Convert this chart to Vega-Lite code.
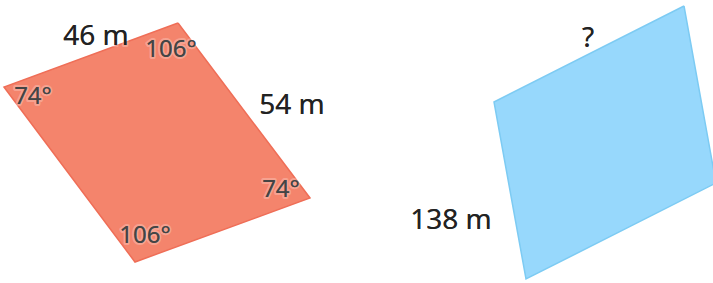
{
  "$schema": "https://vega.github.io/schema/vega-lite/v6.json",
  "width": 713,
  "height": 283,
  "padding": 0,
  "autosize": {"type": "none"},
  "background": "white",
  "config": {"view": {"stroke": null}},
  "datasets": {
    "shapes": [
      {"shape": "A", "i": 0, "x": 178, "y": 23},
      {"shape": "A", "i": 1, "x": 310, "y": 198},
      {"shape": "A", "i": 2, "x": 135, "y": 262},
      {"shape": "A", "i": 3, "x": 4, "y": 87},
      {"shape": "A", "i": 4, "x": 178, "y": 23},
      {"shape": "B", "i": 0, "x": 684, "y": 6},
      {"shape": "B", "i": 1, "x": 716, "y": 183},
      {"shape": "B", "i": 2, "x": 526, "y": 279},
      {"shape": "B", "i": 3, "x": 494, "y": 102},
      {"shape": "B", "i": 4, "x": 684, "y": 6}
    ],
    "labels": [
      {"text": "46 m", "x": 96, "y": 37, "kind": "side"},
      {"text": "54 m", "x": 292, "y": 106, "kind": "side"},
      {"text": "?", "x": 588, "y": 39, "kind": "side"},
      {"text": "138 m", "x": 451, "y": 221, "kind": "side"},
      {"text": "106°", "x": 171, "y": 50, "kind": "angle"},
      {"text": "74°", "x": 33, "y": 97, "kind": "angle"},
      {"text": "74°", "x": 281, "y": 190, "kind": "angle"},
      {"text": "106°", "x": 145, "y": 236, "kind": "angle"}
    ]
  },
  "encoding": {
    "x": {"field": "x", "type": "quantitative", "scale": {"domain": [0, 713], "range": [0, 713], "nice": false, "zero": false}, "axis": null},
    "y": {"field": "y", "type": "quantitative", "scale": {"domain": [0, 283], "range": [0, 283], "nice": false, "zero": false}, "axis": null}
  },
  "layer": [
    {
      "data": {"name": "shapes"},
      "mark": {"type": "line", "strokeWidth": 1.5, "clip": false},
      "encoding": {
        "order": {"field": "i", "type": "quantitative"},
        "detail": {"field": "shape"},
        "stroke": {"field": "shape", "type": "nominal", "scale": {"domain": ["A", "B"], "range": ["#EF6E57", "#7DCBF3"]}, "legend": null},
        "fill": {"field": "shape", "type": "nominal", "scale": {"domain": ["A", "B"], "range": ["#F4846C", "#97D8FC"]}, "legend": null}
      }
    },
    {
      "data": {"name": "labels"},
      "mark": {"type": "text", "font": "Noto Sans", "stroke": "white", "strokeWidth": 4, "strokeOpacity": 0.25, "strokeJoin": "round", "baseline": "middle", "align": "center"},
      "encoding": {
        "text": {"field": "text"},
        "size": {"field": "kind", "type": "nominal", "scale": {"domain": ["side", "angle"], "range": [28, 24]}, "legend": null},
        "color": {"field": "kind", "type": "nominal", "scale": {"domain": ["side", "angle"], "range": ["#222222", "#444444"]}, "legend": null}
      }
    },
    {
      "data": {"name": "labels"},
      "mark": {"type": "text", "font": "Noto Sans", "baseline": "middle", "align": "center"},
      "encoding": {
        "text": {"field": "text"},
        "size": {"field": "kind", "type": "nominal", "scale": {"domain": ["side", "angle"], "range": [28, 24]}, "legend": null},
        "color": {"field": "kind", "type": "nominal", "scale": {"domain": ["side", "angle"], "range": ["#222222", "#444444"]}, "legend": null}
      }
    }
  ]
}
